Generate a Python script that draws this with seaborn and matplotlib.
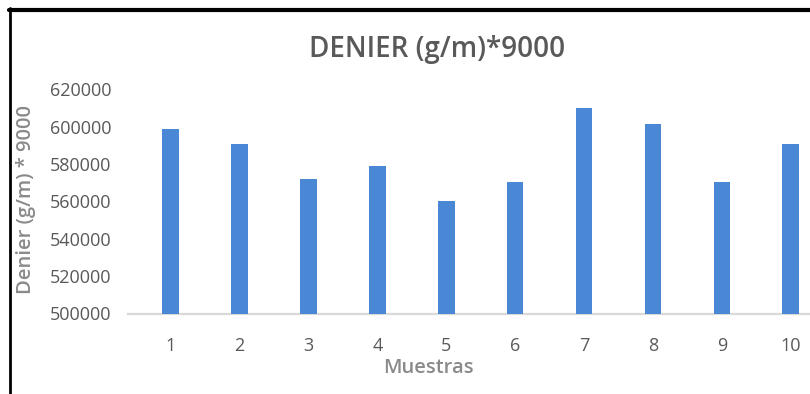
import matplotlib
matplotlib.use("Agg")
import matplotlib.pyplot as plt
from matplotlib.lines import Line2D
import seaborn as sns
import pandas as pd

# Denier per sample
muestras = ["1", "2", "3", "4", "5", "6", "7", "8", "9", "10"]
denier = [598600, 590700, 571800, 579100, 560400, 570500, 609800, 601300, 570500, 590600]
y_ticks = [500000, 520000, 540000, 560000, 580000, 600000, 620000]

df = pd.DataFrame({"Muestras": muestras, "Denier": denier})

sns.set_theme(style="white")
plt.rcParams["font.family"] = ["Open Sans", "DejaVu Sans"]

W, H = 810, 394
x0, x1 = 128, 810
ytop, ybot = 89.3, 313.5

fig = plt.figure(figsize=(8.1, 3.94), dpi=100)
ax = fig.add_axes([x0 / W, 1 - ybot / H, (x1 - x0) / W, (ybot - ytop) / H])

sns.barplot(data=df, x="Muestras", y="Denier", order=muestras, color="#4a88d6",
            width=0.24, saturation=1, ax=ax, linewidth=0)

ax.set_ylim(500000, 620000)
ax.set_xlim(-0.62, 9.28)
ax.set_yticks(y_ticks)
ax.set_yticklabels([str(v) for v in y_ticks])

for s in ("top", "right", "left"):
    ax.spines[s].set_visible(False)
ax.spines["bottom"].set_color("#d9d9d9")
ax.spines["bottom"].set_linewidth(1.6)
ax.spines["bottom"].set_zorder(0)

ax.tick_params(axis="y", length=0, pad=12, labelsize=13, labelcolor="#595959")
ax.tick_params(axis="x", length=0, pad=17, labelsize=13, labelcolor="#595959")

ax.set_xlabel("Muestras", fontsize=14.5, fontweight="semibold", color="#8a8a8a")
ax.xaxis.set_label_coords((428 - x0) / (x1 - x0), -(358 - ybot) / (ybot - ytop))
ax.set_ylabel("Denier (g/m) * 9000", fontsize=14.5, fontweight="semibold", color="#8a8a8a")
ax.yaxis.set_label_coords((36 - x0) / (x1 - x0), (ybot - 200) / (ybot - ytop))

fig.text(437 / W, 1 - 50 / H, "DENIER (g/m)*9000", ha="center", va="center",
         fontsize=20, fontweight="semibold", color="#595959")

# frame lines
fig.add_artist(Line2D([9 / W, 1], [1 - 10 / H, 1 - 10 / H], color="black",
                      linewidth=3, transform=fig.transFigure))
fig.add_artist(Line2D([10 / W, 10 / W], [0, 1 - 8 / H], color="black",
                      linewidth=2, transform=fig.transFigure))

fig.savefig("out.png", dpi=100)
